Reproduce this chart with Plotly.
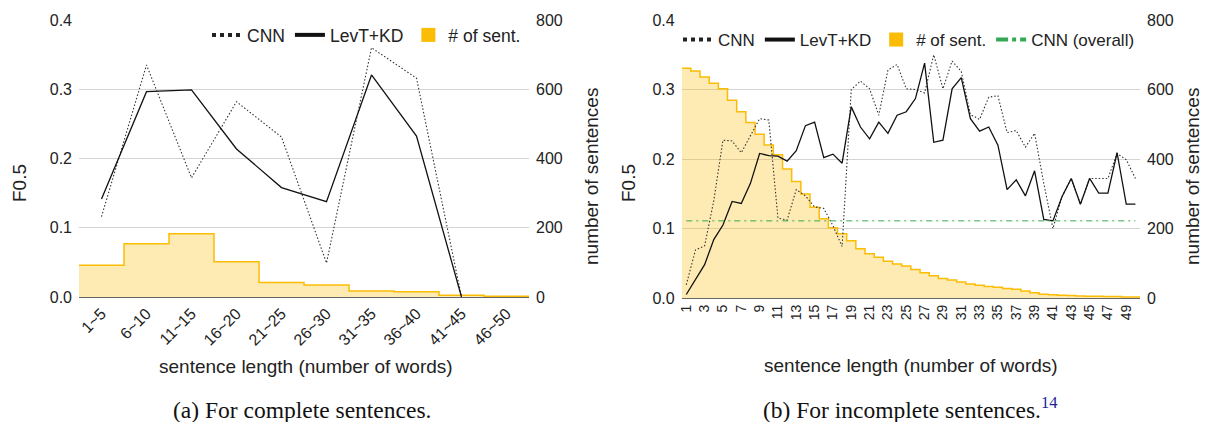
import plotly.graph_objects as go

# ---------------- data ----------------
left_labels = ["1~5", "6~10", "11~15", "16~20", "21~25", "26~30", "31~35", "36~40", "41~45", "46~50"]
left_cnn = [0.116, 0.335, 0.172, 0.282, 0.231, 0.049, 0.360, 0.316, 0.0, None]
left_levt = [0.1415, 0.2965, 0.299, 0.2137, 0.158, 0.1376, 0.3206, 0.2325, 0.0, None]
left_counts = [92, 154, 183, 102, 42, 35, 17, 15, 5, 2]

right_lengths = [str(n) for n in range(1, 51)]
right_cnn = [0.019, 0.069, 0.075, 0.140, 0.227, 0.226, 0.209, 0.234, 0.258, 0.256,
             0.115, 0.112, 0.156, 0.147, 0.131, 0.129, 0.104, 0.074, 0.300, 0.312,
             0.301, 0.263, 0.328, 0.336, 0.301, 0.300, 0.295, 0.350, 0.301, 0.341,
             0.326, 0.264, 0.257, 0.289, 0.291, 0.238, 0.241, 0.217, 0.237, 0.165,
             0.100, 0.146, 0.172, 0.135, 0.172, 0.172, 0.172, 0.208, 0.199, 0.172]
right_levt = [0.005, 0.026, 0.048, 0.084, 0.105, 0.139, 0.136, 0.165, 0.208, 0.205,
              0.204, 0.197, 0.212, 0.248, 0.253, 0.202, 0.207, 0.194, 0.275, 0.246,
              0.229, 0.253, 0.237, 0.263, 0.268, 0.287, 0.338, 0.224, 0.227, 0.301,
              0.317, 0.258, 0.240, 0.246, 0.220, 0.156, 0.170, 0.147, 0.183, 0.113,
              0.111, 0.146, 0.172, 0.135, 0.172, 0.151, 0.151, 0.209, 0.135, 0.135]
right_counts = [661, 653, 636, 618, 602, 569, 536, 505, 471, 440,
                412, 371, 335, 299, 261, 228, 202, 185, 165, 142,
                127, 117, 106, 98, 92, 82, 73, 64, 56, 52,
                46, 40, 37, 33, 31, 27, 25, 20, 15, 11,
                9, 8, 7, 6, 5, 5, 4, 4, 3, 3]
cnn_overall = 0.111

f_ticks = [0.0, 0.1, 0.2, 0.3, 0.4]
n_ticks = [0, 200, 400, 600, 800]

# ---------------- style ----------------
# the page body has an 8px margin, so the figure is placed at (8, 8)
OFF = 8
W, H = 1210 - 2 * OFF, 430 - 2 * OFF
SANS = "Liberation Sans, Arial, sans-serif"
SERIF = "Liberation Serif, Times New Roman, serif"
YEL = "#fbbc04"
FILL = "rgba(251,188,4,0.30)"
GRID = "#d4d4d4"
GREEN = "#34a853"
CNN_C = "#333333"
LEV_C = "#111111"


def px(x):
    return (x - OFF) / W


def py(y):
    return 1 - (y - OFF) / H


fig = go.Figure()

# --- left panel ---
nL = len(left_labels)
fig.add_trace(go.Scatter(x=list(range(nL + 1)), y=left_counts + [left_counts[-1]],
                         mode="lines", line=dict(color=YEL, width=1.5, shape="hv"),
                         fill="tozeroy", fillcolor=FILL, xaxis="x", yaxis="y",
                         showlegend=False, hoverinfo="skip"))
centersL = [i + 0.5 for i in range(nL)]
fig.add_trace(go.Scatter(x=centersL, y=left_cnn, mode="lines",
                         line=dict(color=CNN_C, width=1.1, dash="1.5px,2px"),
                         xaxis="x", yaxis="y2", showlegend=False))
fig.add_trace(go.Scatter(x=centersL, y=left_levt, mode="lines",
                         line=dict(color=LEV_C, width=1.3),
                         xaxis="x", yaxis="y2", showlegend=False))

# --- right panel ---
nR = len(right_lengths)
fig.add_trace(go.Scatter(x=list(range(nR + 1)), y=right_counts + [right_counts[-1]],
                         mode="lines", line=dict(color=YEL, width=1.5, shape="hv"),
                         fill="tozeroy", fillcolor=FILL, xaxis="x2", yaxis="y3",
                         showlegend=False, hoverinfo="skip"))
centersR = [i + 0.5 for i in range(nR)]
fig.add_trace(go.Scatter(x=centersR, y=right_cnn, mode="lines",
                         line=dict(color=CNN_C, width=1.1, dash="1.5px,2px"),
                         xaxis="x2", yaxis="y4", showlegend=False))
fig.add_trace(go.Scatter(x=centersR, y=right_levt, mode="lines",
                         line=dict(color=LEV_C, width=1.3),
                         xaxis="x2", yaxis="y4", showlegend=False))
fig.add_trace(go.Scatter(x=centersR, y=[cnn_overall] * nR, mode="lines",
                         line=dict(color=GREEN, width=1, dash="6px,4px,2px,4px"),
                         xaxis="x2", yaxis="y4", showlegend=False))

# --- legend entries ---
def leg_line(name, color, dash, legend):
    return go.Scatter(x=[None], y=[None], mode="lines", name=name,
                      line=dict(color=color, width=4, dash=dash),
                      legend=legend, xaxis="x", yaxis="y2")


def leg_sq(name, legend):
    return go.Scatter(x=[None], y=[None], mode="markers", name=name,
                      marker=dict(symbol="square", color=YEL, size=14),
                      legend=legend, xaxis="x", yaxis="y2")


fig.add_trace(leg_line("CNN", "#222222", "dot", "legend"))
fig.add_trace(leg_line("LevT+KD", "#111111", "solid", "legend"))
fig.add_trace(leg_sq("# of sent.", "legend"))
fig.add_trace(leg_line("CNN", "#222222", "dot", "legend2"))
fig.add_trace(leg_line("LevT+KD", "#111111", "solid", "legend2"))
fig.add_trace(leg_sq("# of sent.", "legend2"))
fig.add_trace(leg_line("CNN (overall)", GREEN, "dashdot", "legend2"))

tickfont = dict(family=SANS, size=16, color="#222")

count_axis = dict(range=[0, 800], tickvals=n_ticks, side="right", showgrid=True,
                  gridcolor=GRID, gridwidth=1, zeroline=False, showline=False,
                  ticks="", tickfont=tickfont, ticklabelstandoff=6, automargin=False,
                  fixedrange=True)
f_axis = dict(range=[0, 0.4], tickvals=f_ticks, tickformat=".1f", side="left",
              showgrid=False, zeroline=False, showline=False, ticks="",
              tickfont=tickfont, ticklabelstandoff=6, automargin=False)

fig.update_layout(
    width=W, height=H,
    margin=dict(l=0, r=0, t=0, b=0),
    paper_bgcolor="white", plot_bgcolor="white",
    font=dict(family=SANS, color="#222"),
    xaxis=dict(domain=[px(79), px(529)], range=[0, nL], tickvals=centersL,
               ticktext=left_labels, tickangle=-45, showgrid=False, zeroline=False,
               showline=True, linecolor="#666", linewidth=1, ticks="",
               tickfont=dict(family=SANS, size=16, color="#222"), anchor="y",
               automargin=False),
    yaxis=dict(domain=[py(297), py(20)], anchor="x", **count_axis),
    yaxis2=dict(overlaying="y", anchor="x", **f_axis),
    xaxis2=dict(domain=[px(681.7), px(1140)], range=[0, nR],
                tickvals=centersR[::2], ticktext=right_lengths[::2], tickangle=-90,
                showgrid=False, zeroline=False, showline=True, linecolor="#666",
                linewidth=1, ticks="", tickfont=dict(family=SANS, size=14, color="#222"),
                anchor="y3", automargin=False),
    yaxis3=dict(domain=[py(298), py(20)], anchor="x2", **count_axis),
    yaxis4=dict(overlaying="y3", anchor="x2", **f_axis),
    legend=dict(orientation="h", x=px(526), xanchor="right", y=py(35), yanchor="middle",
                font=dict(family=SANS, size=17.5, color="#222"), bgcolor="rgba(0,0,0,0)",
                itemwidth=30, tracegroupgap=0),
    legend2=dict(orientation="h", x=px(1140), xanchor="right", y=py(40), yanchor="middle",
                 font=dict(family=SANS, size=17, color="#222"), bgcolor="rgba(0,0,0,0)",
                 itemwidth=30, tracegroupgap=0),
    showlegend=True,
)

ann = []
title_font = dict(family=SANS, size=19, color="#222")
ann.append(dict(text="F0.5", x=px(19), y=py(183), textangle=-90, font=title_font))
ann.append(dict(text="number of sentences", x=px(591), y=py(177), textangle=-90, font=title_font))
ann.append(dict(text="F0.5", x=px(628), y=py(183), textangle=-90, font=title_font))
ann.append(dict(text="number of sentences", x=px(1192), y=py(177), textangle=-90, font=title_font))
ann.append(dict(text="sentence length (number of words)", x=px(306), y=py(366), font=title_font))
ann.append(dict(text="sentence length (number of words)", x=px(911), y=py(365), font=title_font))
cap_font = dict(family=SERIF, size=23.5, color="#111")
ann.append(dict(text="(a) For complete sentences.", x=px(302), y=py(410), font=cap_font))
ann.append(dict(text="(b) For incomplete sentences.<sup><span style='color:#22229a'>14</span></sup>",
                x=px(910), y=py(408), font=cap_font))
for a in ann:
    a.update(xref="paper", yref="paper", showarrow=False, xanchor="center", yanchor="middle")
fig.update_layout(annotations=ann)

fig.write_html("out.html")
